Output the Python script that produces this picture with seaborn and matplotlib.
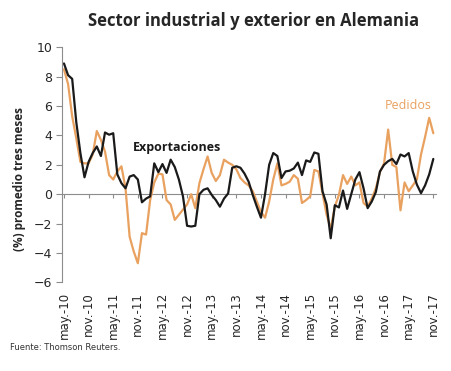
import numpy as np
import pandas as pd
import matplotlib
matplotlib.use("Agg")
import matplotlib.pyplot as plt
import seaborn as sns

# monthly values, may-10 .. nov-17 (3-month average, %)
exportaciones = [
    8.9, 8.1, 7.85, 4.9, 2.8, 1.15, 2.2, 2.8, 3.25, 2.6,
    4.2, 4.05, 4.15, 1.35, 0.75, 0.4, 1.2, 1.3, 1.0, -0.55,
    -0.3, -0.15, 2.1, 1.5, 2.05, 1.45, 2.35, 1.85, 1.0, -0.15,
    -2.15, -2.2, -2.15, 0.0, 0.3, 0.4, -0.05, -0.4, -0.85, -0.3,
    0.05, 1.8, 1.9, 1.8, 1.4, 0.85, -0.05, -0.85, -1.6, 0.0,
    2.0, 2.8, 2.6, 1.1, 1.55, 1.6, 1.75, 2.15, 1.3, 2.3,
    2.2, 2.84, 2.75, 0.2, -0.7, -3.0, -0.75, -0.9, 0.25, -1.0,
    0.0, 1.0, 1.5, 0.4, -0.95, -0.5, 0.15, 1.55, 2.0, 2.25,
    2.4, 2.05, 2.7, 2.57, 2.8, 1.55, 0.65, 0.07, 0.6, 1.35,
    2.4,
]
pedidos = [
    8.5, 7.5, 5.3, 3.8, 2.2, 2.1, 2.1, 2.7, 4.3, 3.7,
    2.9, 1.3, 1.0, 1.55, 1.9, 0.4, -2.9, -3.9, -4.7, -2.65,
    -2.75, -0.4, 0.8, 1.4, 1.35, -0.4, -0.7, -1.75, -1.4, -1.05,
    -0.7, 0.0, -0.95, 0.75, 1.7, 2.57, 1.45, 0.9, 1.3, 2.35,
    2.15, 2.0, 1.7, 1.1, 0.8, 0.6, 0.2, -0.5, -1.2, -1.6,
    -0.5, 1.0, 2.1, 0.6, 0.7, 0.85, 1.3, 1.05, -0.6, -0.4,
    -0.15, 1.65, 1.55, 0.07, -1.4, -2.35, -0.85, -0.05, 1.3, 0.7,
    1.2, 0.6, 0.8, -0.6, -0.85, -0.3, 0.4, 1.5, 2.1, 4.4,
    2.0, 1.85, -1.1, 0.8, 0.2, 0.6, 1.0, 2.7, 3.9, 5.2,
    4.15,
]
tick_labels = [
    "may.-10", "nov.-10", "may.-11", "nov.-11", "may.-12", "nov.-12",
    "may.-13", "nov.-13", "may.-14", "nov.-14", "may.-15", "nov.-15",
    "may.-16", "nov.-16", "may.-17", "nov.-17",
]

ORANGE = "#E9A160"
BLACK = "#1a1a1a"
GREY = "#8c8c8c"

sns.set_style("white")
plt.rcParams["font.family"] = ["DejaVu Sans"]

n = len(exportaciones)
df = pd.DataFrame({
    "mes": np.tile(np.arange(n), 2),
    "valor": pedidos + exportaciones,
    "serie": ["Pedidos"] * n + ["Exportaciones"] * n,
})

fig = plt.figure(figsize=(4.52, 3.71), dpi=100)
ax = fig.add_axes([0.137, 0.239, 0.828, 0.6335])

sns.lineplot(
    data=df, x="mes", y="valor", hue="serie",
    palette={"Pedidos": ORANGE, "Exportaciones": BLACK},
    linewidth=1.6, legend=False, ax=ax,
)

ax.set_xlim(-0.5, 90.7)
ax.set_ylim(-6, 10)
ax.set_yticks(range(-6, 11, 2))
ax.tick_params(axis="y", direction="out", length=4, width=0.8, color=GREY,
               labelsize=9, pad=3, left=True)
for s in ["top", "right", "bottom"]:
    ax.spines[s].set_visible(False)
ax.spines["left"].set_color(GREY)
ax.spines["left"].set_linewidth(0.8)

ticks = np.arange(0, n, 6)
ax.set_xticks(ticks)
ax.set_xticklabels(tick_labels, rotation=90, fontsize=8.5)
ax.tick_params(axis="x", length=0, pad=7)

# zero line with its own tick marks
zero = ax.secondary_xaxis(0, transform=ax.transData)
zero.set_xticks(ticks)
zero.set_xticklabels([])
zero.tick_params(direction="out", length=3, width=0.8, color=GREY)
zero.spines["bottom"].set_color(GREY)
zero.spines["bottom"].set_linewidth(0.8)

ax.set_xlabel("")
ax.set_ylabel("(%) promedio tres meses", fontsize=8.5, fontweight="bold",
              family=["Open Sans", "DejaVu Sans"])
ax.yaxis.set_label_coords(-0.095, 0.44)

ax.text(27.5, 3.2, "Exportaciones", fontsize=9, fontweight="bold",
        color=BLACK, ha="center", va="center", family=["Open Sans", "DejaVu Sans"])
ax.text(84, 6.05, "Pedidos", fontsize=9, color=ORANGE,
        ha="center", va="center", family=["Open Sans", "DejaVu Sans"])

fig.text(0.56, 0.944, "Sector industrial y exterior en Alemania", fontsize=12,
         fontweight="bold", ha="center", va="center",
         family=["Open Sans", "DejaVu Sans"])
fig.text(0.022, 0.062, "Fuente: Thomson Reuters.", fontsize=6, ha="left",
         va="center", color="#333333")

fig.savefig("out.png", dpi=100)
